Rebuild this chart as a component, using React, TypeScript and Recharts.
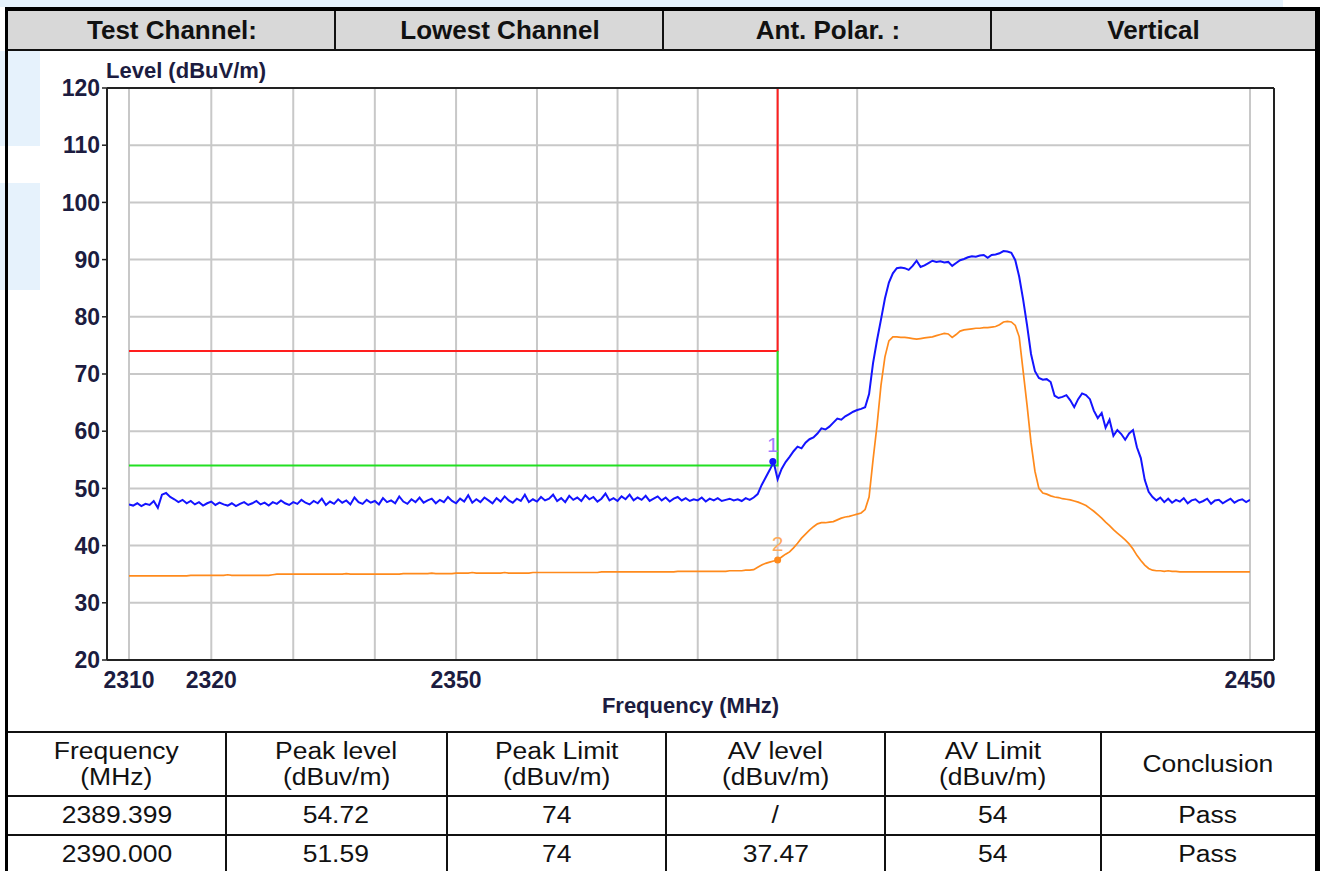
import React from 'react';
import { LineChart, Line, XAxis, YAxis, ReferenceLine, ReferenceDot } from 'recharts';

// ---- sweep definition ----
const START_FREQ = 2310;
const STEP_MHZ = 0.5;

// Peak detector trace (dBuV/m), one row = 5 MHz (10 points) starting at the commented frequency
const peakLevels = [
  /*2310*/ 47.2, 47.0, 47.4, 46.9, 47.3, 47.1, 47.8, 46.6, 48.9, 49.2,
  /*2315*/ 48.5, 48.1, 47.6, 48.0, 47.4, 47.8, 47.2, 47.6, 47.0, 47.4,
  /*2320*/ 47.7, 47.1, 47.5, 47.2, 47.0, 47.4, 46.9, 47.3, 47.6, 47.1,
  /*2325*/ 47.4, 47.8, 47.2, 47.5, 47.0, 47.6, 47.3, 47.9, 47.4, 47.1,
  /*2330*/ 47.6, 47.3, 48.0, 47.5, 47.2, 47.8, 47.4, 48.2, 47.1, 47.7,
  /*2335*/ 47.3, 48.1, 47.5, 47.9, 47.2, 48.4, 47.6, 47.3, 48.0, 47.5,
  /*2340*/ 47.8, 47.2, 48.3, 47.6, 47.9, 47.4, 48.6, 47.7, 47.3, 48.1,
  /*2345*/ 47.6, 48.4, 47.5, 47.9, 48.2, 47.4, 48.0, 47.6, 48.5, 47.8,
  /*2350*/ 47.4, 48.2, 47.7, 48.8, 47.5, 48.1, 47.6, 48.4, 47.9, 47.4,
  /*2355*/ 48.3, 47.7, 48.6, 47.9, 47.5, 48.2, 47.8, 48.9, 47.6, 48.1,
  /*2360*/ 47.7, 48.5, 47.9, 48.2, 48.9, 47.8, 48.3, 47.6, 48.7, 48.0,
  /*2365*/ 48.4, 47.8, 48.8, 48.1, 48.5, 47.7, 48.2, 49.1, 47.9, 48.3,
  /*2370*/ 47.8, 48.6, 48.1, 48.9, 47.9, 48.4, 48.0, 48.7, 47.8, 48.2,
  /*2375*/ 48.6, 47.9, 48.4, 47.7, 48.2, 48.5, 47.9, 48.3, 47.8, 48.1,
  /*2380*/ 47.9, 48.4, 47.7, 48.2, 47.9, 48.3, 47.8, 48.0, 48.2, 47.9,
  /*2385*/ 48.1, 47.8, 48.3, 48.0, 48.4, 49.0, 50.6, 51.9, 53.2, 54.6,
  /*2390*/ 51.6, 53.4, 54.6, 55.5, 56.5, 57.3, 57.0, 58.0, 58.6, 58.9,
  /*2395*/ 59.6, 60.5, 60.3, 60.8, 61.5, 62.2, 62.0, 62.6, 63.0, 63.4,
  /*2400*/ 63.7, 63.9, 64.2, 66.5, 71.9, 75.9, 79.5, 83.2, 86.0, 87.6,
  /*2405*/ 88.5, 88.6, 88.5, 88.2, 88.9, 89.8, 88.7, 89.0, 89.4, 89.8,
  /*2410*/ 89.6, 89.7, 89.5, 89.6, 88.9, 89.4, 89.9, 90.1, 90.4, 90.6,
  /*2415*/ 90.5, 90.7, 90.8, 90.3, 90.8, 90.9, 91.1, 91.5, 91.4, 91.2,
  /*2420*/ 89.9, 87.0, 83.0, 78.5, 73.5, 70.5, 69.3, 69.0, 69.1, 68.6,
  /*2425*/ 66.2, 65.8, 66.0, 66.3, 65.4, 64.2, 65.6, 66.6, 66.3, 65.6,
  /*2430*/ 63.6, 62.3, 63.2, 60.6, 62.0, 59.2, 60.2, 59.5, 58.5, 59.6,
  /*2435*/ 60.2, 57.2, 55.3, 51.5, 49.4, 48.5, 47.9, 48.4, 47.6, 48.2,
  /*2440*/ 47.5, 48.0, 47.7, 48.3, 47.4, 47.9, 48.1, 47.5, 47.8, 48.2,
  /*2445*/ 47.3, 47.9, 48.0, 47.4, 47.8, 48.2, 47.5, 47.9, 48.1, 47.6,
  /*2450*/ 48.0,
];

// Average detector trace (dBuV/m), same sweep points
const avgLevels = [
  /*2310*/ 34.7, 34.7, 34.7, 34.7, 34.7, 34.7, 34.7, 34.7, 34.7, 34.7,
  /*2315*/ 34.7, 34.7, 34.7, 34.7, 34.7, 34.8, 34.8, 34.8, 34.8, 34.8,
  /*2320*/ 34.8, 34.8, 34.8, 34.8, 34.9, 34.8, 34.8, 34.8, 34.8, 34.8,
  /*2325*/ 34.8, 34.8, 34.8, 34.8, 34.8, 34.9, 35.0, 35.0, 35.0, 35.0,
  /*2330*/ 35.0, 35.0, 35.0, 35.0, 35.0, 35.0, 35.0, 35.0, 35.0, 35.0,
  /*2335*/ 35.0, 35.0, 35.0, 35.1, 35.0, 35.0, 35.0, 35.0, 35.0, 35.0,
  /*2340*/ 35.0, 35.0, 35.0, 35.0, 35.0, 35.0, 35.0, 35.1, 35.1, 35.1,
  /*2345*/ 35.1, 35.1, 35.1, 35.1, 35.2, 35.1, 35.1, 35.1, 35.1, 35.1,
  /*2350*/ 35.2, 35.2, 35.2, 35.2, 35.3, 35.2, 35.2, 35.2, 35.2, 35.2,
  /*2355*/ 35.2, 35.2, 35.3, 35.2, 35.2, 35.2, 35.2, 35.2, 35.2, 35.3,
  /*2360*/ 35.3, 35.3, 35.3, 35.3, 35.3, 35.3, 35.3, 35.3, 35.3, 35.3,
  /*2365*/ 35.3, 35.3, 35.3, 35.3, 35.3, 35.3, 35.4, 35.4, 35.4, 35.4,
  /*2370*/ 35.4, 35.4, 35.4, 35.4, 35.4, 35.4, 35.4, 35.4, 35.4, 35.4,
  /*2375*/ 35.4, 35.4, 35.4, 35.4, 35.4, 35.5, 35.5, 35.5, 35.5, 35.5,
  /*2380*/ 35.5, 35.5, 35.5, 35.5, 35.5, 35.5, 35.5, 35.5, 35.6, 35.6,
  /*2385*/ 35.6, 35.6, 35.7, 35.7, 35.8, 36.2, 36.6, 36.9, 37.1, 37.3,
  /*2390*/ 37.47, 38.0, 38.5, 38.9, 39.6, 40.4, 41.3, 42.0, 42.7, 43.3,
  /*2395*/ 43.8, 44.0, 44.0, 44.1, 44.2, 44.5, 44.8, 45.0, 45.1, 45.3,
  /*2400*/ 45.5, 45.7, 46.3, 48.5, 55.0, 61.0, 68.0, 73.0, 75.8, 76.5,
  /*2405*/ 76.5, 76.4, 76.4, 76.3, 76.2, 76.1, 76.2, 76.3, 76.4, 76.5,
  /*2410*/ 76.7, 76.9, 77.1, 77.0, 76.4, 76.9, 77.5, 77.7, 77.8, 77.9,
  /*2415*/ 78.0, 78.0, 78.1, 78.1, 78.2, 78.3, 78.6, 79.1, 79.2, 79.1,
  /*2420*/ 78.5, 76.5, 70.5, 64.5, 58.0, 53.0, 50.0, 49.2, 49.0, 48.7,
  /*2425*/ 48.5, 48.4, 48.2, 48.1, 48.0, 47.8, 47.6, 47.3, 47.0, 46.5,
  /*2430*/ 46.0, 45.4, 44.8, 44.1, 43.5, 42.8, 42.2, 41.6, 41.0, 40.3,
  /*2435*/ 39.4, 38.3, 37.4, 36.6, 36.0, 35.7, 35.6, 35.6, 35.5, 35.6,
  /*2440*/ 35.5, 35.5, 35.4, 35.4, 35.4, 35.4, 35.4, 35.4, 35.4, 35.4,
  /*2445*/ 35.4, 35.4, 35.4, 35.4, 35.4, 35.4, 35.4, 35.4, 35.4, 35.4,
  /*2450*/ 35.4,
];

// ---- axes ----
const X_DOMAIN = [2310, 2450];
const Y_DOMAIN = [20, 120];
const xTicks = [2310, 2320, 2350, 2450];
const yTicks = [20, 30, 40, 50, 60, 70, 80, 90, 100, 110, 120];
const xGridFreqs = [2310, 2320, 2330, 2340, 2350, 2360, 2370, 2380, 2390, 2400, 2450];
const yGridLevels = [30, 40, 50, 60, 70, 80, 90, 100, 110];

// ---- limit lines ----
const peakLimitFreqs = [2310, 2390, 2390];
const peakLimitLevels = [74, 74, 120];
const avLimitFreqs = [2310, 2390, 2390];
const avLimitLevels = [54, 54, 74];

// ---- markers ----
const markerFreqs = [2389.399, 2390.0];
const markerLevels = [54.72, 37.47];
const markerNames = ['1', '2'];

// ---- header / result table ----
const headerCells = ['Test Channel:', 'Lowest Channel', 'Ant. Polar. :', 'Vertical'];
const tableHeadTop = ['Frequency', 'Peak level', 'Peak Limit', 'AV level', 'AV Limit', 'Conclusion'];
const tableHeadBottom = ['(MHz)', '(dBuv/m)', '(dBuv/m)', '(dBuv/m)', '(dBuv/m)', ''];
const resultFreq = ['2389.399', '2390.000'];
const resultPeak = ['54.72', '51.59'];
const resultPeakLimit = ['74', '74'];
const resultAv = ['/', '37.47'];
const resultAvLimit = ['54', '54'];
const resultConclusion = ['Pass', 'Pass'];

// ---- styling ----
const FONT = '"Liberation Sans", Arial, sans-serif';
const AXIS_TEXT = '#1c1c40';
const FRAME = '#222222';
const GRID = '#c8c8c8';
const PEAK_COLOR = '#1414ff';
const AVG_COLOR = '#ff8a1c';
const RED = '#ff1e1e';
const GREEN = '#22e022';
const LIGHT_BLUE = '#e6f2fc';
const MARK_TEXT = ['#a07cff', '#ffaa5a'];
const MARK_DOT = [PEAK_COLOR, AVG_COLOR];

const traceData = peakLevels.map((p, i) => ({
  freq: START_FREQ + i * STEP_MHZ,
  peak: p,
  avg: avgLevels[i],
}));
const peakLimitData = peakLimitFreqs.map((f, i) => ({ freq: f, level: peakLimitLevels[i] }));
const avLimitData = avLimitFreqs.map((f, i) => ({ freq: f, level: avLimitLevels[i] }));

const XTitle = (props: any) => {
  const vb = props.viewBox || { x: 0, y: 0, width: 0, height: 0 };
  return (
    <text x={vb.x + vb.width / 2} y={vb.y + 53} textAnchor="middle" fill={AXIS_TEXT}
      fontSize={22} fontWeight="bold" fontFamily={FONT}>
      Frequency (MHz)
    </text>
  );
};

const YTitle = (props: any) => {
  const vb = props.viewBox || { x: 0, y: 0, width: 0, height: 0 };
  return (
    <text x={vb.x + vb.width - 1} y={vb.y - 10} textAnchor="start" fill={AXIS_TEXT}
      fontSize={22} fontWeight="bold" fontFamily={FONT}>
      Level (dBuV/m)
    </text>
  );
};

const makeMarkerShape = (i: number) => (p: any) => (
  <g>
    <circle cx={p.cx} cy={p.cy} r={3.5} fill={MARK_DOT[i]} />
    <text x={p.cx} y={p.cy - 9} textAnchor="middle" fill={MARK_TEXT[i]} fontSize={21} fontFamily={FONT}>
      {markerNames[i]}
    </text>
  </g>
);

const box = (left: number, top: number, width: number, height: number, bg: string, key?: string) => (
  <div key={key} style={{ position: 'absolute', left, top, width, height, background: bg }} />
);

const headerBounds = [8, 336, 664, 992, 1315];
const tableBounds = [8, 225.5, 447, 666, 885, 1101, 1315];
const tableRowTops = [797, 836];

const Stretch = ({ children }: { children: React.ReactNode }) => (
  <span style={{ display: 'inline-block', transform: 'scaleX(1.15)' }}>{children}</span>
);

export default function App() {
  const rows = resultFreq.map((f, i) => [f, resultPeak[i], resultPeakLimit[i], resultAv[i], resultAvLimit[i], resultConclusion[i]]);
  return (
    <div style={{ position: 'fixed', left: 0, top: 0, width: 1323, height: 871, overflow: 'hidden', background: '#fff', fontFamily: FONT }}>
      {/* watermark tints */}
      {box(0, 0, 1283, 7, LIGHT_BLUE)}
      {box(0, 51, 40, 95, LIGHT_BLUE)}
      {box(0, 183, 40, 107, LIGHT_BLUE)}

      {/* header row */}
      {box(8, 11, 1307, 38, '#d8d8d8')}
      {headerCells.map((t, i) => (
        <div key={t} style={{ position: 'absolute', left: headerBounds[i], top: 11, width: headerBounds[i + 1] - headerBounds[i], height: 38, display: 'flex', alignItems: 'center', justifyContent: 'center', fontWeight: 'bold', fontSize: 26, color: '#111' }}>
          {t}
        </div>
      ))}
      {[334, 662, 990].map((x) => box(x, 11, 2, 38, '#111', 'hs' + x))}
      {box(8, 49, 1307, 2, '#111')}

      {/* chart */}
      <div style={{ position: 'absolute', left: 0, top: 0 }}>
        <LineChart width={1323} height={731} data={traceData} margin={{ top: 87, right: 48, bottom: 0, left: 106 }}>
          <XAxis dataKey="freq" type="number" scale="log" domain={X_DOMAIN} allowDataOverflow ticks={xTicks} interval={0}
            padding={{ left: 22, right: 24 }} height={71} tickSize={0} tickMargin={12} tickLine={false}
            axisLine={{ stroke: FRAME, strokeWidth: 2 }}
            tick={{ fill: AXIS_TEXT, fontSize: 23, fontWeight: 'bold', fontFamily: FONT }}
            label={<XTitle />} />
          <XAxis xAxisId="top" orientation="top" dataKey="freq" type="number" scale="log" domain={X_DOMAIN} allowDataOverflow
            padding={{ left: 22, right: 24 }} height={1} tick={false} tickLine={false}
            axisLine={{ stroke: FRAME, strokeWidth: 2 }} />
          <YAxis type="number" domain={Y_DOMAIN} allowDataOverflow ticks={yTicks} interval={0} width={1}
            tickSize={5} tickMargin={2} tickLine={{ stroke: FRAME, strokeWidth: 1.5 }}
            axisLine={{ stroke: FRAME, strokeWidth: 2 }}
            tick={{ fill: AXIS_TEXT, fontSize: 23, fontWeight: 'bold', fontFamily: FONT }}
            label={<YTitle />} />
          <YAxis yAxisId="right" orientation="right" type="number" domain={Y_DOMAIN} allowDataOverflow width={1}
            tick={false} tickLine={false} axisLine={{ stroke: FRAME, strokeWidth: 2 }} />

          {xGridFreqs.map((f) => (
            <ReferenceLine key={'gx' + f} x={f} stroke={GRID} strokeWidth={2} zIndex={-50} />
          ))}
          {yGridLevels.map((v) => (
            <ReferenceLine key={'gy' + v} segment={[{ x: X_DOMAIN[0], y: v }, { x: X_DOMAIN[1], y: v }]} stroke={GRID} strokeWidth={2} zIndex={-50} />
          ))}

          <Line data={peakLimitData} dataKey="level" type="linear" stroke={RED} strokeWidth={2} dot={false} activeDot={false} isAnimationActive={false} />
          <Line data={avLimitData} dataKey="level" type="linear" stroke={GREEN} strokeWidth={2} dot={false} activeDot={false} isAnimationActive={false} />
          <Line dataKey="avg" type="linear" stroke={AVG_COLOR} strokeWidth={1.7} dot={false} activeDot={false} isAnimationActive={false} />
          <Line dataKey="peak" type="linear" stroke={PEAK_COLOR} strokeWidth={2} dot={false} activeDot={false} isAnimationActive={false} />

          {markerFreqs.map((f, i) => (
            <ReferenceDot key={'m' + i} x={f} y={markerLevels[i]} r={3.5} shape={makeMarkerShape(i)} />
          ))}
        </LineChart>
      </div>

      {/* result table */}
      {box(8, 731, 1307, 2, '#111')}
      {tableHeadTop.map((t, i) => (
        <div key={'th' + i} style={{ position: 'absolute', left: tableBounds[i], top: 733, width: tableBounds[i + 1] - tableBounds[i], height: 62, display: 'flex', flexDirection: 'column', alignItems: 'center', justifyContent: 'center', fontSize: 23, lineHeight: '26px', color: '#111' }}>
          <Stretch>{t}</Stretch>
          {tableHeadBottom[i] ? <Stretch>{tableHeadBottom[i]}</Stretch> : null}
        </div>
      ))}
      {box(8, 795, 1307, 2, '#111')}
      {box(8, 834, 1307, 2, '#111')}
      {rows.map((r, ri) =>
        r.map((c, ci) => (
          <div key={'c' + ri + '-' + ci} style={{ position: 'absolute', left: tableBounds[ci], top: tableRowTops[ri], width: tableBounds[ci + 1] - tableBounds[ci], height: 37, display: 'flex', alignItems: 'center', justifyContent: 'center', fontSize: 23, color: '#111' }}>
            <Stretch>{c}</Stretch>
          </div>
        ))
      )}
      {[224.5, 446, 665, 884, 1100].map((x) => box(x, 733, 2, 140, '#111', 'vs' + x))}

      {/* outer border */}
      {box(5, 7, 3, 864, '#000')}
      {box(5, 7, 1315, 4, '#000')}
      {box(1315, 7, 5, 864, '#000')}
    </div>
  );
}
